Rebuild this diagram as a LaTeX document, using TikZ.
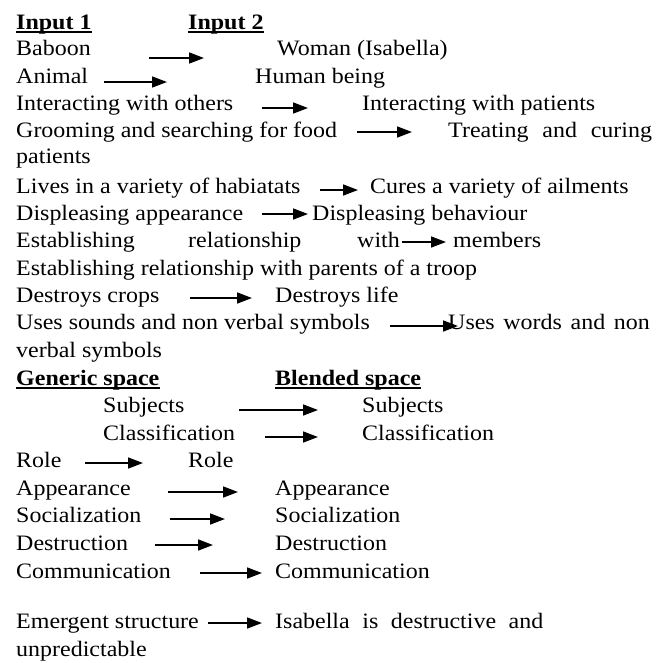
\documentclass[tikz,border=0pt]{standalone}
\usepackage{fontspec}
\setmainfont{Liberation Serif}
\usetikzlibrary{arrows.meta}
\newcommand{\sx}[1]{\scalebox{1.09}[1]{#1}}
\newcommand{\jw}[2]{\scalebox{1.09}[1]{\makebox[#1][s]{#2}}}
\tikzset{
 txt/.style={anchor=base west, inner sep=0pt, font=\fontsize{22}{26}\selectfont},
 hd/.style={txt, font=\fontsize{22}{26}\selectfont\bfseries},
 arr/.style={line width=1.6pt, -{Triangle[length=15pt,width=11pt]}},
 ul/.style={line width=1.3pt}
}
\begin{document}
\begin{tikzpicture}[x=1pt,y=-1pt]
\useasboundingbox (0,0) rectangle (670,662);
% headings
\node[hd] (h1) at (16,29) {\sx{Input 1}};
\node[hd] (h2) at (188,29) {\sx{Input 2}};
\draw[ul] ([yshift=-3pt]h1.base west) -- ([yshift=-3pt]h1.base east);
\draw[ul] ([yshift=-3pt]h2.base west) -- ([yshift=-3pt]h2.base east);
% line 2
\node[txt] (l2a) at (16,55) {\sx{Baboon}};
\node[txt] (l2b) at (277,55) {\sx{Woman (Isabella)}};
\coordinate (a2s) at (149,58); \coordinate (a2e) at (204,58);
\draw[arr] (a2s) -- (a2e);
% line 3
\node[txt] (l3a) at (16,83) {\sx{Animal}};
\node[txt] (l3b) at (255,83) {\sx{Human being}};
\coordinate (a3s) at (104,82); \coordinate (a3e) at (167,82);
\draw[arr] (a3s) -- (a3e);
% line 4
\node[txt] (l4a) at (16,110) {\sx{Interacting with others}};
\node[txt] (l4b) at (362,110) {\sx{Interacting with patients}};
\coordinate (a4s) at (262,108); \coordinate (a4e) at (308,108);
\draw[arr] (a4s) -- (a4e);
% line 5
\node[txt] (l5a) at (16,137) {\sx{Grooming and searching for food}};
\node[txt] (l5b) at (448,137) {\jw{187pt}{Treating and curing}};
\coordinate (a5s) at (357,132); \coordinate (a5e) at (412,132);
\draw[arr] (a5s) -- (a5e);
\node[txt] (l6a) at (16,163) {\sx{patients}};
% line 7
\node[txt] (l7a) at (16,193) {\sx{Lives in a variety of habiatats}};
\node[txt] (l7b) at (370,193) {\sx{Cures a variety of ailments}};
\coordinate (a7s) at (320,190); \coordinate (a7e) at (358,190);
\draw[arr] (a7s) -- (a7e);
% line 8
\node[txt] (l8a) at (16,220) {\sx{Displeasing appearance}};
\node[txt] (l8b) at (312,220) {\sx{Displeasing behaviour}};
\coordinate (a8s) at (262,214); \coordinate (a8e) at (308,214);
\draw[arr] (a8s) -- (a8e);
% line 9
\node[txt] (l9a) at (16,247) {\sx{Establishing}};
\node[txt] (l9b) at (188,247) {\sx{relationship}};
\node[txt] (l9c) at (357,247) {\sx{with}};
\node[txt] (l9d) at (453,247) {\sx{members}};
\coordinate (a9s) at (402,242); \coordinate (a9e) at (446,242);
\draw[arr] (a9s) -- (a9e);
\node[txt] (l10a) at (16,275) {\sx{Establishing relationship with parents of a troop}};
% line 11
\node[txt] (l11a) at (16,302) {\sx{Destroys crops}};
\node[txt] (l11b) at (275,302) {\sx{Destroys life}};
\coordinate (a11s) at (190,298); \coordinate (a11e) at (252,298);
\draw[arr] (a11s) -- (a11e);
% line 12
\node[txt] (l12a) at (16,329) {\sx{Uses sounds and non verbal symbols}};
\node[txt] (l12b) at (448,329) {\jw{185pt}{Uses words and non}};
\coordinate (a12s) at (390,326); \coordinate (a12e) at (458,326);
\draw[arr] (a12s) -- (a12e);
\node[txt] (l13a) at (16,357) {\sx{verbal symbols}};
% generic / blended
\node[hd] (h3) at (16,385) {\sx{Generic space}};
\node[hd] (h4) at (275,385) {\sx{Blended space}};
\draw[ul] ([yshift=-3pt]h3.base west) -- ([yshift=-3pt]h3.base east);
\draw[ul] ([yshift=-3pt]h4.base west) -- ([yshift=-3pt]h4.base east);
\node[txt] (g1a) at (103,412) {\sx{Subjects}};
\node[txt] (g1b) at (362,412) {\sx{Subjects}};
\coordinate (b1s) at (239,410); \coordinate (b1e) at (318,410);
\draw[arr] (b1s) -- (b1e);
\node[txt] (g2a) at (103,440) {\sx{Classification}};
\node[txt] (g2b) at (362,440) {\sx{Classification}};
\coordinate (b2s) at (265,437); \coordinate (b2e) at (318,437);
\draw[arr] (b2s) -- (b2e);
\node[txt] (g3a) at (16,467) {\sx{Role}};
\node[txt] (g3b) at (188,467) {\sx{Role}};
\coordinate (b3s) at (85,463); \coordinate (b3e) at (143,463);
\draw[arr] (b3s) -- (b3e);
\node[txt] (g4a) at (16,495) {\sx{Appearance}};
\node[txt] (g4b) at (275,495) {\sx{Appearance}};
\coordinate (b4s) at (168,492); \coordinate (b4e) at (238,492);
\draw[arr] (b4s) -- (b4e);
\node[txt] (g5a) at (16,522) {\sx{Socialization}};
\node[txt] (g5b) at (275,522) {\sx{Socialization}};
\coordinate (b5s) at (170,519); \coordinate (b5e) at (225,519);
\draw[arr] (b5s) -- (b5e);
\node[txt] (g6a) at (16,550) {\sx{Destruction}};
\node[txt] (g6b) at (275,550) {\sx{Destruction}};
\coordinate (b6s) at (155,545); \coordinate (b6e) at (213,545);
\draw[arr] (b6s) -- (b6e);
\node[txt] (g7a) at (16,578) {\sx{Communication}};
\node[txt] (g7b) at (275,578) {\sx{Communication}};
\coordinate (b7s) at (200,573); \coordinate (b7e) at (262,573);
\draw[arr] (b7s) -- (b7e);
% emergent
\node[txt] (e1a) at (16,628) {\sx{Emergent structure}};
\node[txt] (e1b) at (275,628) {\jw{246pt}{Isabella is destructive and}};
\coordinate (c1s) at (208,623); \coordinate (c1e) at (262,623);
\draw[arr] (c1s) -- (c1e);
\node[txt] (e2a) at (16,656) {\sx{unpredictable}};
\end{tikzpicture}
\end{document}
